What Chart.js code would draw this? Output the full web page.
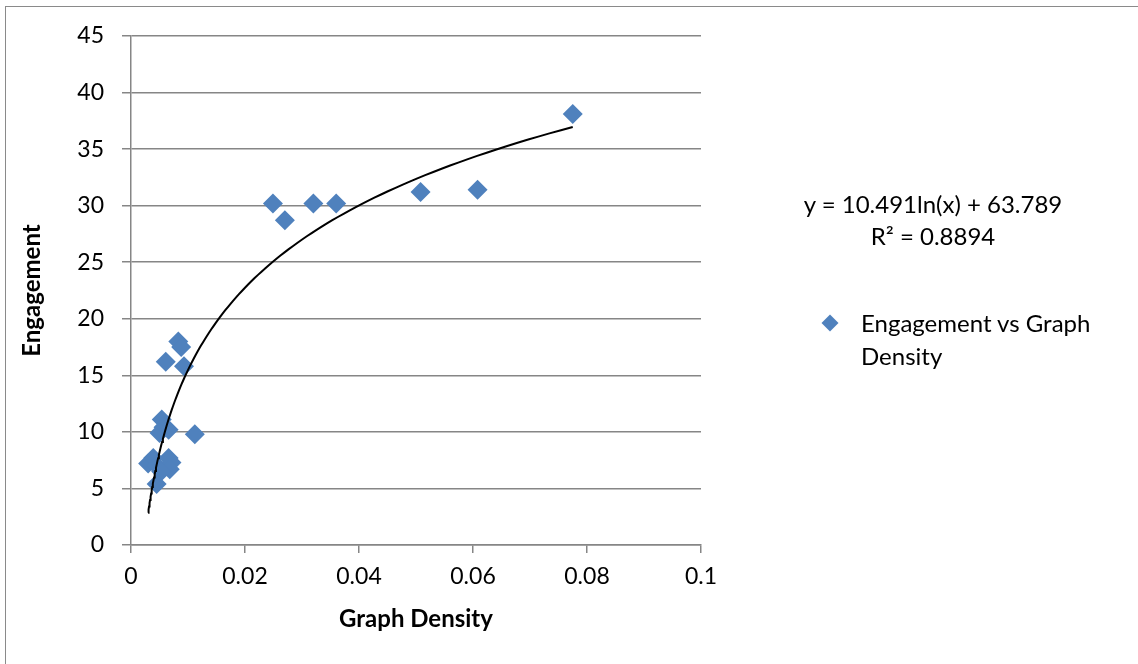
<!DOCTYPE html>
<html>
<head>
<meta charset="utf-8">
<script src="https://cdn.jsdelivr.net/npm/chart.js@4.4.1/dist/chart.umd.min.js"></script>
<style>
  html, body { margin: 0; padding: 0; background: #fff; }
  #wrap { position: relative; width: 1138px; height: 664px; overflow: hidden; }
  #c { position: absolute; left: 0; top: 0; }
  #frame { position: absolute; left: 5px; top: 6px; width: 1140px; height: 700px;
           border-left: 1.5px solid #8a8a8a; border-top: 1.5px solid #8a8a8a; pointer-events: none; }
  .txt { position: absolute; font-family: Lato, "Liberation Sans", sans-serif; font-size: 24px; color: #000; white-space: nowrap; }
  #eq { left: 783px; width: 300px; top: 188px; text-align: center; line-height: 32px; }
  #legtxt { left: 861px; top: 306px; line-height: 33px; }
  #legmark { position: absolute; left: 824px; top: 317px; width: 12px; height: 12px; background: #4F81BD; transform: rotate(45deg); }
</style>
</head>
<body>
<div id="wrap">
  <canvas id="c" width="1138" height="664"></canvas>
  <div id="frame"></div>
  <div class="txt" id="eq">y = 10.491ln(x) + 63.789<br>R² = 0.8894</div>
  <div id="legmark"></div>
  <div class="txt" id="legtxt">Engagement vs Graph<br>Density</div>
</div>
<script>
// ---- data ----
const seriesName = "Engagement vs Graph Density";
const densityValues = [0.0249, 0.0270, 0.0320, 0.0360, 0.0508, 0.0608, 0.0775,
  0.0083, 0.0088, 0.0061, 0.0093,
  0.0054, 0.0057, 0.0050, 0.0066, 0.0112,
  0.0030, 0.0039, 0.0045, 0.0066, 0.0071, 0.0068, 0.0053, 0.0045];
const engagementValues = [30.2, 28.7, 30.2, 30.2, 31.2, 31.4, 38.1,
  18.0, 17.5, 16.2, 15.8,
  11.1, 10.4, 9.9, 10.2, 9.8,
  7.2, 7.7, 7.0, 7.7, 7.3, 6.7, 6.5, 5.4];
const xTicks = [0, 0.02, 0.04, 0.06, 0.08, 0.1];
const yTicks = [0, 5, 10, 15, 20, 25, 30, 35, 40, 45];
// logarithmic trendline coefficients shown on the chart
const trendA = 10.491;
const trendB = 63.789;
const trendXStart = 0.0030;
const trendXEnd = 0.0775;

const scatterPoints = densityValues.map((x, i) => ({ x: x, y: engagementValues[i] }));
const trendPoints = [];
const N = 120;
for (let i = 0; i <= N; i++) {
  const lx = Math.log(trendXStart) + (Math.log(trendXEnd) - Math.log(trendXStart)) * i / N;
  const x = Math.exp(lx);
  trendPoints.push({ x: x, y: trendA * Math.log(x) + trendB });
}

const FONT = 'Lato, "Liberation Sans", sans-serif';
const gridColor = '#868686';

new Chart(document.getElementById('c'), {
  type: 'scatter',
  data: {
    datasets: [
      {
        label: 'trend',
        type: 'line',
        data: trendPoints,
        borderColor: '#000',
        borderWidth: 2,
        pointRadius: 0,
        fill: false,
        tension: 0,
        order: 0
      },
      {
        label: seriesName,
        data: scatterPoints,
        pointStyle: 'rectRot',
        pointRadius: 10,
        pointHoverRadius: 10,
        backgroundColor: '#4F81BD',
        borderColor: '#4F81BD',
        borderWidth: 0,
        order: 1
      }
    ]
  },
  options: {
    responsive: false,
    animation: false,
    events: [],
    layout: { padding: { left: 0, right: 437, top: 36, bottom: 29 } },
    plugins: { legend: { display: false }, tooltip: { enabled: false } },
    scales: {
      x: {
        type: 'linear',
        min: 0, max: 0.1,
        afterBuildTicks: (s) => { s.ticks = xTicks.map(v => ({ value: v })); },
        afterFit: (s) => { s.height = 90; },
        ticks: {
          font: { family: FONT, size: 23 },
          color: '#000',
          padding: 10,
          maxRotation: 0,
          callback: (v) => String(v)
        },
        grid: { drawOnChartArea: false, drawTicks: true, tickLength: 8, color: gridColor, lineWidth: 1.5 },
        border: { display: true, color: gridColor, width: 1.5 },
        title: {
          display: true, text: 'Graph Density',
          font: { family: FONT, size: 24, weight: 'bold' }, color: '#000',
          padding: { top: 0, bottom: 1 }
        }
      },
      y: {
        type: 'linear',
        min: 0, max: 45,
        afterBuildTicks: (s) => { s.ticks = yTicks.map(v => ({ value: v })); },
        afterFit: (s) => { s.width = 131; },
        ticks: {
          font: { family: FONT, size: 23 },
          color: '#000',
          padding: 18
        },
        grid: { drawOnChartArea: true, drawTicks: true, tickLength: 9, color: gridColor, lineWidth: 1.5 },
        border: { display: true, color: gridColor, width: 1.5 },
        title: {
          display: true, text: 'Engagement',
          font: { family: FONT, size: 24, weight: 'bold' }, color: '#000',
          padding: { top: 18, bottom: 0 }
        }
      }
    }
  }
});
</script>
</body>
</html>
